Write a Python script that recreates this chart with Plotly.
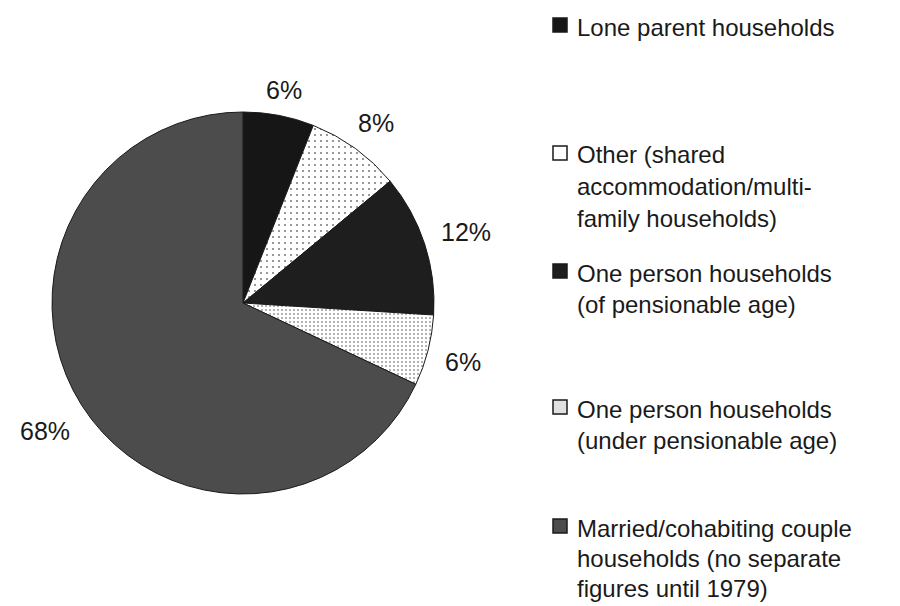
import math
import plotly.graph_objects as go

categories = [
    "Lone parent households",
    "Other (shared accommodation/multi-family households)",
    "One person households (of pensionable age)",
    "One person households (under pensionable age)",
    "Married/cohabiting couple households (no separate figures until 1979)",
]
values = [6, 8, 12, 6, 68]
legend_lines = [
    ["Lone parent households"],
    ["Other (shared", "accommodation/multi-", "family households)"],
    ["One person households", "(of pensionable age)"],
    ["One person households", "(under pensionable age)"],
    ["Married/cohabiting couple", "households (no separate", "figures until 1979)"],
]

colors = ["#161616", "#f9f9f9", "#1e1e1e", "#dadada", "#4c4c4c"]
pattern_shapes = ["", ".", "", ".", ""]
pattern_fg = ["#161616", "#808080", "#1e1e1e", "#9a9a9a", "#4c4c4c"]
pattern_size = [6, 6, 6, 4, 6]
pattern_solidity = [0.2, 0.1, 0.2, 0.2, 0.2]
FONT = "Liberation Sans, Arial, sans-serif"

W, H = 900, 606
cx, cy, r = 243, 303, 191

fig = go.Figure(go.Pie(
    labels=categories,
    values=values,
    sort=False,
    direction="clockwise",
    rotation=0,
    textinfo="none",
    marker=dict(colors=colors,
                line=dict(color="#1a1a1a", width=1),
                pattern=dict(shape=pattern_shapes, fgcolor=pattern_fg,
                             size=pattern_size, solidity=pattern_solidity)),
    domain=dict(x=[(cx - r) / W, (cx + r) / W], y=[(H - cy - r) / H, (H - cy + r) / H]),
    showlegend=False,
    hoverinfo="label+percent",
))

annotations = []
shapes = []

# percentage labels placed just outside each slice's mid-angle
total = sum(values)
cum = 0
pad = 13
for v in values:
    mid = (cum + v / 2) / total * 2 * math.pi
    cum += v
    dx, dy = math.sin(mid), -math.cos(mid)  # screen coords (y down)
    txt = f"{v}%"
    tw = 15 * (len(txt) - 1) + 28
    th = 22
    ext = tw / 2 * abs(dx) + th / 2 * abs(dy)
    R = r + pad + ext
    px, py = cx + R * dx, cy + R * dy
    annotations.append(dict(text=txt, xref="paper", yref="paper",
                            x=px / W, y=1 - (py + 2) / H,
                            xanchor="center", yanchor="middle", showarrow=False,
                            font=dict(family=FONT, size=25, color="#1a1a1a")))

# legend drawn manually
legend_y = [25, 153, 271, 407, 526]
line_gaps = [31.5, 31.5, 31.5, 31.5, 30]
swatch_fill = ["#161616", "#ffffff", "#1e1e1e", "#e0e0e0", "#4c4c4c"]
for i, lines in enumerate(legend_lines):
    y0 = legend_y[i]
    shapes.append(dict(type="rect", xref="paper", yref="paper",
                       x0=553 / W, x1=567 / W,
                       y0=1 - (y0 + 7) / H, y1=1 - (y0 - 7) / H,
                       fillcolor=swatch_fill[i], line=dict(color="#1a1a1a", width=1.5)))
    for j, t in enumerate(lines):
        annotations.append(dict(text=t, xref="paper", yref="paper",
                                x=576 / W, y=1 - (y0 + j * line_gaps[i] + 2) / H,
                                xanchor="left", yanchor="middle", showarrow=False,
                                borderpad=0,
                                font=dict(family=FONT, size=24, color="#1a1a1a")))

fig.update_layout(
    width=W, height=H,
    margin=dict(l=0, r=0, t=0, b=0),
    paper_bgcolor="white", plot_bgcolor="white",
    shapes=shapes, annotations=annotations,
)

fig.write_html("out.html", config={"displayModeBar": False},
               post_script="document.body.style.margin='0px';")
